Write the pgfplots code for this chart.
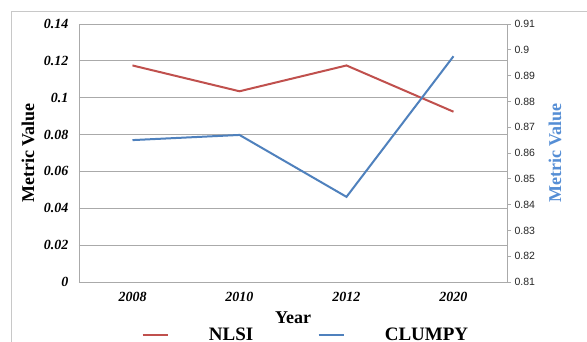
\documentclass[border=0pt]{standalone}
\usepackage{pgfplots}
\pgfplotsset{compat=1.18}
\usepackage{fontspec}
\setmainfont{Liberation Serif}
\newfontfamily\arialf{Liberation Sans}
\definecolor{nlsi}{RGB}{192,80,77}
\definecolor{clumpy}{RGB}{79,129,189}
\definecolor{rlab}{RGB}{85,142,213}
\definecolor{gridc}{RGB}{170,170,170}
\definecolor{framec}{RGB}{200,200,200}
\begin{document}
\begin{tikzpicture}[x=1pt,y=1pt]
\useasboundingbox (0,0) rectangle (587,341);
\clip (0,0) rectangle (587,341);
\fill[white] (0,0) rectangle (587,341);
\draw[framec, line width=1pt] (11,-10) -- (11,329.5) -- (600,329.5);
\begin{axis}[
  at={(79pt,59pt)}, anchor=south west,
  scale only axis, width=428pt, height=258pt,
  xmin=-0.5, xmax=3.5, ymin=0, ymax=0.14,
  xtick={0,1,2,3}, xticklabels={2008,2010,2012,2020},
  ytick={0,0.02,0.04,0.06,0.08,0.1,0.12,0.14},
  scaled y ticks=false,
  yticklabel style={/pgf/number format/fixed,/pgf/number format/precision=2},
  /pgf/number format/assume math mode=true,
  major tick length=0pt,
  ymajorgrids, grid style={gridc, line width=0.8pt},
  axis line style={gridc, line width=0.8pt},
  tick label style={font=\fontsize{14}{14}\selectfont\bfseries\itshape},
  y tick label style={xshift=-7pt},
  x tick label style={yshift=-7pt},
  xlabel={Year}, ylabel={Metric Value},
  label style={font=\fontsize{18}{18}\selectfont\bfseries},
  xlabel style={at={(axis description cs:0.5,-0.137)}, anchor=center},
  ylabel style={at={(axis description cs:-0.119,0.5)}, anchor=center},
  clip=false,
]
\addplot[nlsi, line width=2pt] coordinates {(0,0.1175) (1,0.1035) (2,0.1175) (3,0.0924)};
\end{axis}
\begin{axis}[
  at={(79pt,59pt)}, anchor=south west,
  scale only axis, width=428pt, height=258pt,
  xmin=-0.5, xmax=3.5, ymin=0.81, ymax=0.91,
  axis x line=none, axis y line*=right,
  ytick={0.81,0.82,0.83,0.84,0.85,0.86,0.87,0.88,0.89,0.9,0.91},
  scaled y ticks=false,
  yticklabel style={/pgf/number format/fixed,/pgf/number format/precision=2},
  /pgf/number format/assume math mode=true,
  tick align=outside, major tick length=4pt,
  tick style={gridc, line width=0.8pt},
  axis line style={gridc, line width=0.8pt},
  tick label style={font=\arialf\fontsize{10.5}{11}\selectfont, text=black!85},
  ylabel={Metric Value},
  ylabel style={font=\fontsize{18}{18}\selectfont\bfseries, text=rlab, at={(axis description cs:1.112,0.5)}, anchor=center},
  legend columns=2,
  legend style={at={(axis description cs:0.53,-0.205)}, anchor=center, draw=none, fill=none,
    font=\fontsize{19}{19}\selectfont\bfseries,
    /tikz/every odd column/.append style={column sep=38pt},
    /tikz/every even column/.append style={column sep=62pt}},
  legend image code/.code={\draw[#1, line width=2.5pt] (0pt,0pt) -- (25pt,0pt);},
  clip=false,
]
\addlegendimage{nlsi}
\addlegendentry{NLSI}
\addplot[clumpy, line width=2pt] coordinates {(0,0.865) (1,0.867) (2,0.843) (3,0.8975)};
\addlegendentry{CLUMPY}
\end{axis}
\end{tikzpicture}
\end{document}
